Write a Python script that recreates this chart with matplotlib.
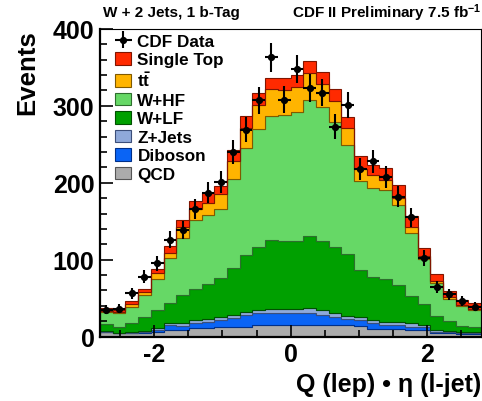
import matplotlib
matplotlib.use("Agg")
import matplotlib.pyplot as plt
from matplotlib.patches import Patch
from matplotlib.ticker import MultipleLocator
import numpy as np

plt.rcParams["font.family"] = ["Liberation Sans", "DejaVu Sans"]
plt.rcParams["font.weight"] = "bold"
plt.rcParams["axes.unicode_minus"] = False
plt.rcParams["mathtext.fontset"] = "custom"
plt.rcParams["mathtext.rm"] = "Liberation Sans:bold"
plt.rcParams["mathtext.bf"] = "Liberation Sans:bold"
plt.rcParams["mathtext.it"] = "Liberation Sans:bold"

# 30 bins in Q(lep) * eta(l-jet)
bin_edges = np.linspace(-2.8, 2.8, 31)

qcd = [6, 4, 4, 5, 6, 9, 9, 11, 11, 12, 13, 13, 15, 15.5, 15.5,
       15, 15, 14.5, 14.5, 14.5, 14, 10, 10, 10, 9, 9, 4.5, 4, 3.5, 3]
diboson = [0.5, 0.5, 0.5, 0.6, 3, 6.5, 5.3, 7, 8.4, 9.2, 11.2, 15.5, 15.6, 15.1, 15.1,
           15, 15, 13.5, 10.5, 8.5, 7, 7, 5, 5, 4, 3, 1.5, 1.5, 1, 1]
z_jets = [0.5, 0.5, 1, 1.4, 1.6, 2.5, 3.7, 3.2, 3.5, 3.8, 3.4, 3.4, 4.3, 5.6, 5.4,
          6, 7, 6, 5, 4, 4, 4.5, 4, 3.6, 4, 3, 2, 1.5, 1.1, 1.5]
w_lf = [9, 8, 12.5, 19, 23.4, 26, 36, 40.8, 45.1, 51, 61.4, 74.1, 82.1, 88.8, 88,
        88, 94, 90, 87, 80, 61, 56.5, 55.6, 48.7, 36, 27.3, 19.2, 12.8, 8.6, 7]
w_hf = [15.5, 17, 21, 28, 40.6, 57.8, 73.7, 89.5, 89.9, 89.3, 116, 138.7, 153.5, 161.5, 163.8,
        168.2, 176.2, 174.6, 162.2, 142, 116.3, 115.3, 115.7, 103.6, 82, 58.3, 42.3, 29.4, 25.1, 21.5]
ttbar = [1.5, 1.5, 3, 4, 7.8, 7.2, 14.3, 13.8, 16, 19.7, 23.5, 27.1, 31.1, 34.9, 33.2,
         32.3, 35.4, 30.2, 27.2, 22.5, 16.1, 16.4, 13.8, 9.9, 7.8, 4.3, 2.1, 2.2, 1.7, 2.2]
single_top = [4, 2.5, 4, 4, 5.2, 8.8, 9.5, 11.2, 12.9, 10.5, 13.5, 15.2, 15.1, 15.2, 15,
              15.1, 16.4, 15.2, 15, 14.2, 16.3, 13, 15.1, 16, 13.8, 10.7, 10, 8.1, 6.9, 7.4]
cdf_data = [35, 36, 56, 78, 95, 126, 139, 166, 187, 201, 240, 269, 307, 363, 308,
            348, 323, 317, 273, 301, 218, 228, 207, 182, 155, 102, 64, 55, 46, 39]

# stacked bottom -> top: (label, counts, fill, outline)
processes = [
    ("QCD", qcd, "#ababab", "#555555"),
    ("Diboson", diboson, "#0a64f5", "#00308a"),
    ("Z+Jets", z_jets, "#8fa9da", "#3c4f7a"),
    ("W+LF", w_lf, "#00a000", "#005000"),
    ("W+HF", w_hf, "#66d866", "#2e6e2e"),
    (r"t$\bar{\mathrm{t}}$", ttbar, "#ffb400", "#805a00"),
    ("Single Top", single_top, "#ff2a00", "#801500"),
]

fig = plt.figure(figsize=(4.82, 4.02), dpi=100)
ax = fig.add_axes([0.2075, 0.1604, 0.7905, 0.765])

baseline = np.zeros(len(bin_edges) - 1)
handles = []
for label, counts, face, edge in processes:
    top = baseline + np.asarray(counts, dtype=float)
    ax.stairs(top, bin_edges, baseline=baseline, fill=True,
              facecolor=face, edgecolor=edge, linewidth=0.8)
    handles.append(Patch(facecolor=face, edgecolor=edge, linewidth=0.8, label=label))
    baseline = top

centers = 0.5 * (bin_edges[:-1] + bin_edges[1:])
half_width = 0.5 * np.diff(bin_edges)
counts = np.asarray(cdf_data, dtype=float)
data_marks = ax.errorbar(centers, counts, xerr=half_width, yerr=np.sqrt(counts),
                         fmt="o", color="black", markersize=4.2, elinewidth=1.5,
                         capsize=0, zorder=5, label="CDF Data")

ax.set_xlim(-2.8, 2.8)
ax.set_ylim(0, 400)
ax.xaxis.set_major_locator(MultipleLocator(2))
ax.xaxis.set_minor_locator(MultipleLocator(0.5))
ax.yaxis.set_major_locator(MultipleLocator(100))
ax.yaxis.set_minor_locator(MultipleLocator(20))
ax.tick_params(which="both", direction="in", top=False, right=False,
               labelsize=18, width=1.2)
ax.tick_params(which="major", length=9, pad=4)
ax.tick_params(which="minor", length=5)
for side in ("left", "bottom"):
    ax.spines[side].set_linewidth(1.6)
for side in ("top", "right"):
    ax.spines[side].set_linewidth(0.8)

ax.set_ylabel("Events", fontsize=18.5, fontweight="bold", loc="top", labelpad=10)
ax.set_xlabel("Q (lep) \u2022 \u03b7 (l-jet)", fontsize=18, fontweight="bold",
              loc="right", labelpad=4)

fig.text(0.213, 0.968, "W + 2 Jets, 1 b-Tag", fontsize=11, fontweight="bold",
         ha="left", va="center")
fig.text(0.998, 0.968, r"CDF II Preliminary 7.5 fb$^{-1}$", fontsize=11,
         fontweight="bold", ha="right", va="center")

ax.legend([data_marks] + handles[::-1], ["CDF Data"] + [h.get_label() for h in handles[::-1]],
          loc="upper left", bbox_to_anchor=(0.04, 0.985), frameon=False,
          fontsize=12.3, labelspacing=0.19, handlelength=0.95, handleheight=0.76,
          handletextpad=0.35, borderpad=0, borderaxespad=0)

fig.savefig("out.png", dpi=100)
